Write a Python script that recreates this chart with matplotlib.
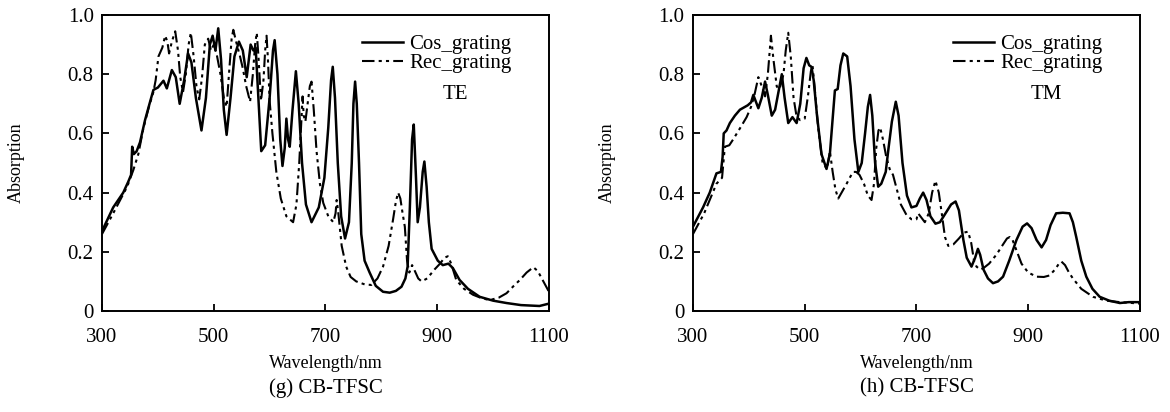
#!/usr/bin/env python3
# cb_tfsc_absorption.py

import matplotlib
matplotlib.use("Agg")
import matplotlib.pyplot as plt

# (g) TE polarisation
te_cos_wl = [300, 320, 338, 347, 352, 354, 357, 362, 368, 377, 385, 392, 400, 410, 416,
             425, 432, 439, 447, 454, 460, 468, 478, 486, 493, 498, 503, 508, 513, 518,
             523, 530, 537, 545, 552, 559, 566, 571, 575, 579, 585, 592, 600, 606, 609,
             614, 619, 623, 627, 630, 633, 636, 641, 647, 652, 658, 665, 675, 688, 698,
             705, 710, 713, 717, 722, 728, 735, 742, 747, 750, 753, 756, 760, 764, 770,
             779, 790, 803, 815, 826, 836, 843, 847, 851, 855, 858, 862, 865, 869, 874,
             877, 881, 885, 890, 901, 910, 920, 928, 940, 955, 976, 1000, 1024, 1050,
             1083, 1100]
te_cos_abs = [0.27, 0.35, 0.40, 0.437, 0.46, 0.555, 0.53, 0.54, 0.57, 0.645, 0.70, 0.747,
              0.755, 0.778, 0.752, 0.814, 0.79, 0.70, 0.78, 0.87, 0.84, 0.72, 0.61, 0.72,
              0.90, 0.93, 0.88, 0.955, 0.85, 0.68, 0.595, 0.72, 0.86, 0.91, 0.88, 0.79,
              0.90, 0.88, 0.89, 0.75, 0.54, 0.56, 0.72, 0.88, 0.915, 0.80, 0.58, 0.49,
              0.55, 0.65, 0.58, 0.555, 0.68, 0.81, 0.70, 0.50, 0.36, 0.30, 0.35, 0.45,
              0.62, 0.78, 0.825, 0.72, 0.50, 0.32, 0.245, 0.30, 0.50, 0.70, 0.775, 0.70,
              0.50, 0.26, 0.17, 0.13, 0.085, 0.065, 0.062, 0.068, 0.082, 0.11, 0.15, 0.35,
              0.58, 0.63, 0.45, 0.30, 0.35, 0.47, 0.505, 0.42, 0.30, 0.21, 0.17, 0.155,
              0.16, 0.145, 0.105, 0.075, 0.048, 0.035, 0.027, 0.02, 0.017, 0.025]

te_rec_wl = [300, 320, 345, 356, 365, 374, 384, 392, 396, 401, 408, 413, 417, 420, 425,
             431, 436, 440, 445, 450, 455, 459, 464, 469, 474, 479, 484, 490, 495, 500,
             505, 512, 518, 523, 528, 532, 535, 540, 547, 552, 558, 565, 570, 574, 577,
             580, 584.5, 589, 592, 594.5, 597, 600, 605, 612, 620, 630, 642, 648, 653,
             657, 659, 661, 664, 668, 672, 675, 679, 684, 690, 696, 705, 714, 718, 720,
             723, 729, 737, 745, 755, 770, 782, 793, 803, 813, 821, 826, 830, 834, 838,
             842, 846, 850, 855, 860, 866, 872, 882, 895, 905, 913, 919, 925, 934, 948,
             964, 980, 994, 1010, 1024, 1037, 1048, 1060, 1072, 1080, 1090, 1100]
te_rec_abs = [0.26, 0.33, 0.42, 0.476, 0.53, 0.617, 0.69, 0.74, 0.78, 0.86, 0.89, 0.93,
              0.91, 0.87, 0.91, 0.945, 0.88, 0.79, 0.74, 0.80, 0.90, 0.94, 0.86, 0.76,
              0.715, 0.79, 0.90, 0.92, 0.88, 0.90, 0.87, 0.80, 0.72, 0.69, 0.82, 0.92,
              0.95, 0.91, 0.86, 0.82, 0.76, 0.707, 0.80, 0.90, 0.94, 0.86, 0.71, 0.78,
              0.88, 0.93, 0.85, 0.71, 0.60, 0.47, 0.38, 0.32, 0.30, 0.36, 0.50, 0.65,
              0.725, 0.66, 0.64, 0.70, 0.76, 0.775, 0.68, 0.54, 0.43, 0.365, 0.32, 0.30,
              0.33, 0.375, 0.33, 0.22, 0.15, 0.115, 0.10, 0.09, 0.088, 0.11, 0.15, 0.22,
              0.31, 0.37, 0.40, 0.38, 0.33, 0.285, 0.17, 0.13, 0.155, 0.135, 0.11, 0.10,
              0.11, 0.14, 0.16, 0.18, 0.185, 0.16, 0.105, 0.075, 0.055, 0.043, 0.037,
              0.045, 0.06, 0.085, 0.105, 0.13, 0.148, 0.135, 0.10, 0.065]

# (h) TM polarisation
tm_cos_wl = [300, 318, 330, 342, 350, 353, 355, 360, 366, 375, 384, 398, 404, 408, 412,
             417, 423, 429, 434, 441, 447, 453, 459, 464, 470.5, 478, 485.5, 492, 498,
             503, 508, 512, 516, 522, 530, 539, 545, 550, 554, 559, 564, 569, 576, 582,
             589, 596, 602, 608, 613, 617, 621, 626, 631.5, 637, 645, 650, 656, 663, 668,
             675, 683, 691, 700, 706, 712, 718, 725, 734, 742, 752, 762, 770, 776, 784,
             790, 798.5, 805, 810, 814, 820, 828, 837, 846, 855, 866, 879, 890, 898, 906,
             915, 924, 932, 940, 950, 962, 974, 980, 986, 995, 1004, 1015, 1028, 1045,
             1064, 1080, 1100]
tm_cos_abs = [0.285, 0.35, 0.40, 0.465, 0.47, 0.52, 0.60, 0.61, 0.635, 0.66, 0.68, 0.695,
              0.705, 0.73, 0.71, 0.685, 0.72, 0.775, 0.73, 0.66, 0.68, 0.74, 0.80, 0.72,
              0.635, 0.655, 0.635, 0.70, 0.82, 0.855, 0.83, 0.825, 0.78, 0.66, 0.53, 0.48,
              0.53, 0.65, 0.745, 0.75, 0.83, 0.87, 0.86, 0.76, 0.58, 0.47, 0.50, 0.60,
              0.69, 0.73, 0.66, 0.50, 0.42, 0.43, 0.47, 0.55, 0.64, 0.707, 0.66, 0.50,
              0.39, 0.35, 0.355, 0.38, 0.40, 0.375, 0.32, 0.295, 0.30, 0.33, 0.36, 0.37,
              0.34, 0.24, 0.18, 0.15, 0.18, 0.21, 0.19, 0.14, 0.11, 0.094, 0.10, 0.116,
              0.17, 0.24, 0.285, 0.296, 0.28, 0.24, 0.215, 0.24, 0.29, 0.33, 0.332, 0.33,
              0.30, 0.25, 0.17, 0.116, 0.075, 0.048, 0.035, 0.027, 0.03, 0.03]

tm_rec_wl = [300, 320, 342, 352, 357, 365, 372, 385, 396, 404, 410, 417, 423, 429, 434,
             439.5, 444, 450, 455, 462, 466, 470.5, 475, 480, 485.5, 492, 500, 506, 511,
             514, 518, 524, 532, 540, 545, 550, 555, 560, 566, 575, 582, 587, 592, 598,
             606, 613, 619.6, 624, 628, 632, 635, 640, 646, 652, 658, 665, 672, 682, 691,
             700, 703, 707, 715, 722, 728, 734, 740, 746, 751, 757, 766, 776, 785, 792.5,
             798, 803, 807.5, 814, 820, 830, 843, 855, 862, 867, 872, 880, 888, 900, 915,
             928, 938, 948, 955, 959.5, 966, 973, 980, 995, 1016, 1040, 1064, 1080, 1100]
tm_rec_abs = [0.26, 0.33, 0.43, 0.45, 0.555, 0.56, 0.58, 0.62, 0.655, 0.69, 0.73, 0.79,
              0.76, 0.725, 0.80, 0.93, 0.85, 0.758, 0.75, 0.80, 0.88, 0.94, 0.86, 0.72,
              0.656, 0.645, 0.65, 0.73, 0.81, 0.83, 0.75, 0.62, 0.50, 0.48, 0.54, 0.47,
              0.41, 0.38, 0.40, 0.43, 0.455, 0.47, 0.47, 0.46, 0.43, 0.39, 0.375, 0.43,
              0.55, 0.61, 0.62, 0.58, 0.52, 0.48, 0.46, 0.41, 0.36, 0.325, 0.31, 0.31,
              0.33, 0.32, 0.30, 0.33, 0.40, 0.44, 0.40, 0.32, 0.25, 0.22, 0.225, 0.245,
              0.265, 0.268, 0.23, 0.17, 0.15, 0.14, 0.145, 0.16, 0.19, 0.225, 0.245, 0.25,
              0.24, 0.20, 0.16, 0.13, 0.116, 0.115, 0.12, 0.14, 0.16, 0.167, 0.155, 0.13,
              0.11, 0.075, 0.048, 0.035, 0.03, 0.028, 0.025]

x_ticks = [300, 500, 700, 900, 1100]
y_ticks = [0, 0.2, 0.4, 0.6, 0.8, 1.0]
y_tick_labels = ["0", "0.2", "0.4", "0.6", "0.8", "1.0"]
series_labels = ["Cos_grating", "Rec_grating"]
panel_tags = ["TE", "TM"]
captions = ["(g) CB-TFSC", "(h) CB-TFSC"]

plt.rcParams["font.family"] = ["Liberation Serif", "DejaVu Serif"]

DASHDOT = (0, (6, 2, 1.5, 2, 1.5, 2))


def plot(ax, cos_wl, cos_abs, rec_wl, rec_abs, tag, caption):
    ax.plot(cos_wl, cos_abs, color="black", linewidth=1.8, linestyle="solid",
            label=series_labels[0])
    ax.plot(rec_wl, rec_abs, color="black", linewidth=1.5, linestyle=DASHDOT,
            label=series_labels[1])

    ax.set_xlim(300, 1100)
    ax.set_ylim(0, 1.0)
    ax.set_xticks(x_ticks)
    ax.set_yticks(y_ticks)
    ax.set_yticklabels(y_tick_labels)
    ax.tick_params(direction="in", length=5, width=1.3, labelsize=15)
    ax.tick_params(axis="x", pad=12)
    ax.tick_params(axis="y", pad=6)

    for spine in ax.spines.values():
        spine.set_linewidth(1.4)

    ax.set_xlabel("Wavelength/nm", fontsize=13)
    ax.xaxis.set_label_coords(0.5, -0.15)
    ax.set_ylabel("Absorption", fontsize=13)
    ax.yaxis.set_label_coords(-0.172, 0.5)

    ax.text(0.79, 0.73, tag, transform=ax.transAxes, fontsize=15,
            ha="center", va="center")
    ax.text(0.5, -0.26, caption, transform=ax.transAxes, fontsize=15,
            ha="center", va="center")

    ax.legend(loc="upper right", bbox_to_anchor=(0.917, 0.935), frameon=False,
              fontsize=15, handlelength=2.0, handletextpad=0.3,
              labelspacing=0.0, borderpad=0, borderaxespad=0)


def main():
    fig = plt.figure(figsize=(11.7, 4.12), dpi=100)

    ax1 = fig.add_axes([0.0872, 0.2451, 0.382, 0.7185])
    plot(ax1, te_cos_wl, te_cos_abs, te_rec_wl, te_rec_abs, panel_tags[0], captions[0])

    ax2 = fig.add_axes([0.5923, 0.2451, 0.382, 0.7185])
    plot(ax2, tm_cos_wl, tm_cos_abs, tm_rec_wl, tm_rec_abs, panel_tags[1], captions[1])

    fig.savefig("out.png", dpi=100)


if __name__ == "__main__":
    main()
